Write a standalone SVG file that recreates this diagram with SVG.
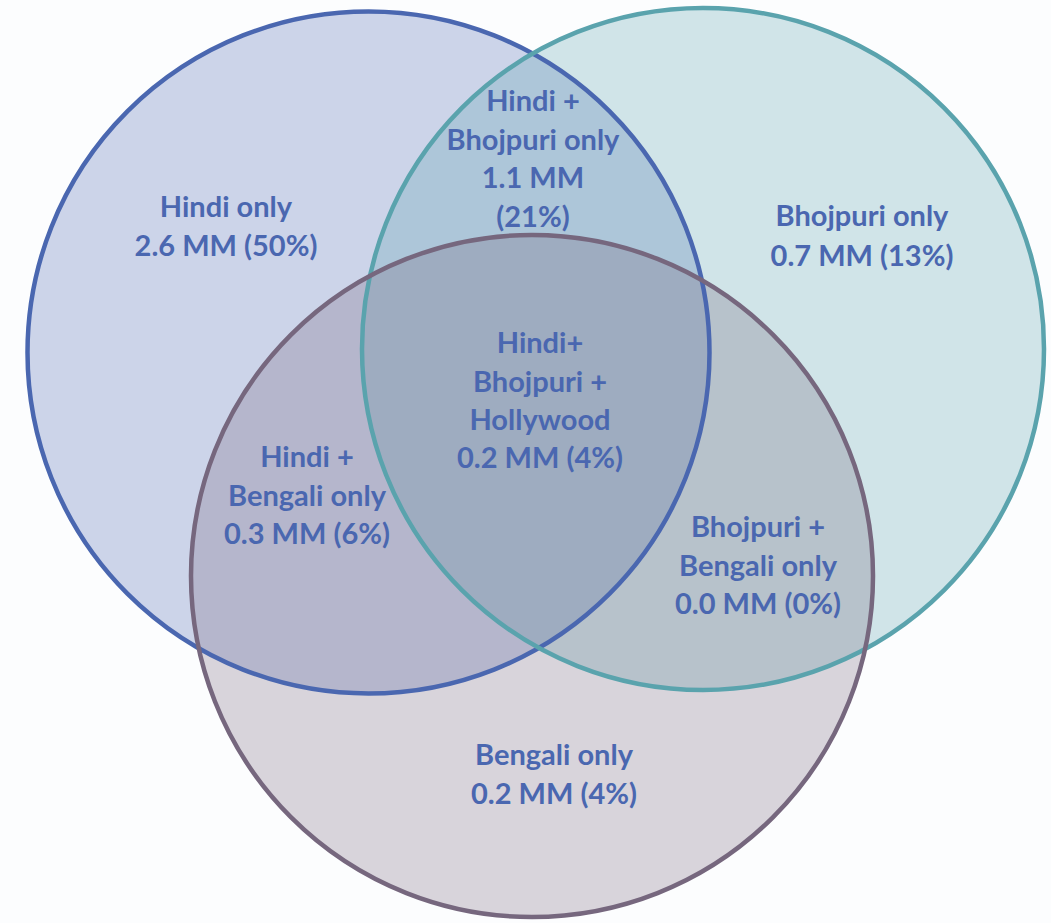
<svg xmlns="http://www.w3.org/2000/svg" width="1051" height="923" viewBox="0 0 1051 923">
<style>
.fill{stroke:none;fill-opacity:0.27}
.ring{fill:none;stroke-width:4.5}
text{font-family:Lato,"Open Sans","Liberation Sans",sans-serif;font-weight:bold;font-size:29px;fill:#4a67b0;text-anchor:middle}
</style>
<rect width="1051" height="923" fill="#fcfdfe"/>
<g id="fills">
<circle class="fill" cx="368.5" cy="352.5" r="341" fill="#4a67b0"/>
<circle class="fill" cx="703" cy="349" r="341" fill="#5aa3ad"/>
<circle class="fill" cx="532" cy="576" r="341" fill="#76677e"/>
</g>
<g id="hindi"><circle class="ring" cx="368.5" cy="352.5" r="341" stroke="#4a67b0"/></g>
<g id="bhojpuri"><circle class="ring" cx="703" cy="349" r="341" stroke="#5aa3ad"/></g>
<g id="bengali"><circle class="ring" cx="532" cy="576" r="341" stroke="#76677e"/></g>
<g id="labels">
<g id="hindi-only"><text x="226" y="217">Hindi only</text><text x="226" y="256">2.6 MM (50%)</text></g>
<g id="bhojpuri-only"><text x="862" y="226">Bhojpuri only</text><text x="862" y="266">0.7 MM (13%)</text></g>
<g id="hindi-bhojpuri"><text x="533" y="111">Hindi +</text><text x="533" y="150">Bhojpuri only</text><text x="533" y="188">1.1 MM</text><text x="533" y="227">(21%)</text></g>
<g id="all-three"><text x="540" y="353">Hindi+</text><text x="540" y="392">Bhojpuri +</text><text x="540" y="430">Hollywood</text><text x="540" y="468">0.2 MM (4%)</text></g>
<g id="hindi-bengali"><text x="307" y="467">Hindi +</text><text x="307" y="506">Bengali only</text><text x="307" y="544">0.3 MM (6%)</text></g>
<g id="bhojpuri-bengali"><text x="758" y="537">Bhojpuri +</text><text x="758" y="576">Bengali only</text><text x="758" y="614">0.0 MM (0%)</text></g>
<g id="bengali-only"><text x="554" y="765">Bengali only</text><text x="554" y="804">0.2 MM (4%)</text></g>
</g>
</svg>
